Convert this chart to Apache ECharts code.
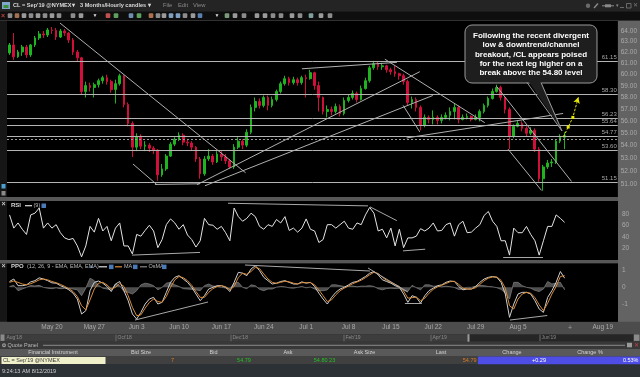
<!DOCTYPE html>
<html><head><meta charset="utf-8">
<script src="https://cdn.jsdelivr.net/npm/echarts@6/dist/echarts.min.js"></script>
<style>html,body{margin:0;padding:0;background:#2b2b2b;overflow:hidden}#c{width:640px;height:377px}</style>
</head><body><div id="c"></div>
<script>
// ---------- data (hourly CL candles, sampled in half-day slots) ----------
const opens = [61.95,62.69,61.59,62.04,62.50,61.77,62.69,63.34,63.72,63.62,64.10,64.05,63.43,64.00,63.81,63.15,62.04,61.50,58.50,59.02,
58.85,59.10,59.45,59.72,59.37,58.67,59.19,59.89,57.39,55.80,53.87,54.75,53.95,54.03,53.79,53.63,51.70,52.16,53.16,54.11,
54.51,54.83,54.27,54.20,53.87,52.93,51.78,52.93,53.16,52.70,53.32,53.09,52.78,52.31,53.87,54.35,54.03,55.07,57.14,57.64,
57.31,57.99,57.31,57.81,58.50,59.19,59.63,59.28,59.54,59.28,59.72,59.63,60.16,59.02,57.99,56.80,56.97,56.80,57.22,56.63,
57.73,57.99,58.33,57.81,58.76,59.45,60.60,60.96,60.69,60.78,60.42,60.25,60.07,59.89,59.37,57.56,57.81,57.14,55.64,56.30,
56.13,56.30,56.05,56.30,56.47,56.80,57.14,56.13,56.30,56.38,56.13,56.30,56.80,57.31,57.90,58.50,58.85,57.99,56.97,54.75,
55.56,55.80,55.40,54.99,55.23,53.71,51.40,52.31,52.62,52.70,54.35,54.67];
const closes = [62.69,61.59,62.04,62.50,61.77,62.69,63.34,63.72,63.62,64.10,64.05,63.43,64.00,63.81,63.15,62.04,61.50,58.50,59.02,58.85,
59.10,59.45,59.72,59.37,58.67,59.19,59.89,57.39,55.80,53.87,54.75,53.95,54.03,53.79,53.63,51.70,52.16,53.16,54.11,54.51,
54.83,54.27,54.20,53.87,52.93,51.78,52.93,53.16,52.70,53.32,53.09,52.78,52.31,53.87,54.35,54.03,55.07,57.14,57.64,57.31,
57.99,57.31,57.81,58.50,59.19,59.63,59.28,59.54,59.28,59.72,59.63,60.16,59.02,57.99,56.80,56.97,56.80,57.22,56.63,57.73,
57.99,58.33,57.81,58.76,59.45,60.60,60.96,60.69,60.78,60.42,60.25,60.07,59.89,59.37,57.56,57.81,57.14,55.64,56.30,56.13,
56.30,56.05,56.30,56.47,56.80,57.14,56.13,56.30,56.38,56.13,56.30,56.80,57.31,57.90,58.50,58.85,57.99,56.97,54.75,55.56,
55.80,55.40,54.99,55.23,53.71,51.40,52.31,52.62,52.70,54.35,54.67,54.79];
const lows = [61.77,61.32,61.50,61.68,61.50,61.59,62.50,63.15,63.34,63.43,63.72,63.15,63.34,63.53,62.87,61.77,61.14,58.24,57.99,58.50,
57.99,58.85,59.19,59.10,58.41,57.47,59.02,57.14,55.56,53.09,53.55,53.71,53.55,53.48,53.32,51.25,51.55,52.01,53.09,53.95,
54.35,54.03,53.95,53.63,52.70,51.40,51.63,52.78,52.47,52.62,52.78,52.54,52.16,52.16,53.71,53.71,53.87,54.91,56.80,57.05,
57.14,56.89,57.14,57.64,58.33,59.02,59.02,59.10,59.02,59.10,57.99,59.54,58.67,56.80,56.55,56.30,56.47,56.63,56.38,56.47,
57.56,57.81,57.56,57.73,58.67,59.28,60.42,60.42,60.42,60.16,59.98,59.80,59.54,59.10,57.31,57.05,56.80,55.23,55.48,55.80,
55.72,55.72,55.80,56.13,56.05,56.13,55.80,56.05,56.13,55.97,56.05,55.97,56.63,57.14,57.81,58.41,57.73,56.63,53.71,54.59,
55.48,55.15,54.75,54.83,53.48,51.17,50.50,52.16,52.31,52.54,54.19,53.71];
const highs = [62.87,63.81,62.23,62.69,62.69,62.78,63.53,64.00,64.00,64.29,64.38,64.29,64.19,64.19,63.91,63.34,62.23,61.59,59.37,59.28,
59.28,59.63,59.89,59.98,59.54,59.54,60.07,59.98,57.56,55.97,54.99,54.91,54.35,54.19,53.95,53.71,52.54,53.32,54.27,54.67,
55.07,54.99,54.51,54.35,53.95,53.09,53.16,53.71,53.32,53.55,53.55,53.32,52.93,54.11,54.67,54.51,55.32,57.39,57.99,57.90,
58.16,58.16,58.07,58.67,59.37,59.89,59.80,59.80,59.72,59.89,59.98,60.42,60.25,59.37,58.07,57.31,57.22,57.47,57.39,57.99,
58.24,58.59,58.50,59.02,59.72,60.78,61.23,61.14,61.05,60.87,60.60,60.78,60.16,60.07,59.54,58.07,57.99,57.31,56.55,56.47,
56.89,56.47,56.55,56.72,57.14,57.47,57.31,56.55,56.63,56.47,56.55,56.97,57.47,58.07,58.76,59.10,59.02,58.07,57.14,55.72,
56.05,55.97,55.56,55.48,55.40,53.87,52.47,52.85,52.93,54.51,54.91,55.07];
const rsiValues = [78,55,64,53,44,78,81,90,55,64,55,61,47,38,35,37,24,5,24,58,
48,72,50,58,33,55,64,24,24,10,44,41,51,60,50,21,35,61,71,64,
53,61,43,35,22,33,72,61,60,53,58,47,33,90,75,67,72,81,75,58,
53,61,58,70,64,75,51,55,48,55,71,53,50,30,35,61,61,55,61,67,
55,53,64,61,78,91,81,50,53,38,55,24,53,21,38,38,41,54,50,55,
64,50,51,61,64,41,61,67,47,48,55,61,77,84,67,58,33,33,8,55,
47,47,58,44,33,8,33,58,58,78,72,65];
const ppoValues = [0.35,0.5,0.1,0.1,0.15,0.33,0.4,0.57,0.5,0.4,0.27,0.25,0.1,0.0,-0.15,-0.35,-0.7,-1.6,-1.4,-0.2,
0.3,0.38,0.25,0.05,-0.25,0.2,0.35,-0.2,-0.8,-1.6,-1.9,-1.5,-1.0,-0.7,-0.6,-1.0,-0.9,-0.3,0.3,0.6,
0.7,0.5,0.3,0.0,-0.4,-0.8,-0.5,-0.1,0.0,0.1,0.1,0.0,-0.25,0.3,0.9,0.85,0.7,1.1,1.3,1.0,
0.6,0.4,0.2,0.25,0.35,0.4,0.3,0.2,0.2,0.33,0.25,0.3,0.05,-0.35,-0.7,-1.0,-0.6,-0.3,-0.1,0.0,
0.15,0.3,0.35,0.5,0.65,0.85,0.95,0.75,0.45,0.35,0.25,0.1,0.0,-0.4,-0.9,-0.5,-0.6,-0.95,-0.5,-0.2,
-0.05,0.1,0.15,0.3,0.38,0.35,0.05,-0.15,-0.1,-0.1,0.05,0.3,0.5,0.6,0.65,0.6,0.3,-0.4,-1.8,-1.0,
-0.4,-0.3,-0.3,-0.4,-0.8,-1.3,-1.5,-0.6,-0.2,0.3,0.95,0.55];
const ppoSignal = [0.3,0.38,0.3,0.2,0.15,0.22,0.32,0.45,0.5,0.45,0.35,0.28,0.18,0.06,-0.08,-0.25,-0.55,-1.1,-1.35,-0.75,
-0.1,0.25,0.3,0.15,-0.1,0.0,0.25,0.05,-0.5,-1.2,-1.7,-1.65,-1.25,-0.9,-0.7,-0.85,-0.9,-0.55,0.0,0.45,
0.65,0.58,0.4,0.12,-0.25,-0.6,-0.6,-0.3,-0.08,0.05,0.1,0.04,-0.15,0.05,0.6,0.85,0.78,0.95,1.2,1.12,
0.8,0.5,0.3,0.24,0.3,0.37,0.33,0.25,0.2,0.28,0.28,0.28,0.15,-0.15,-0.5,-0.85,-0.75,-0.45,-0.2,-0.05,
0.08,0.22,0.32,0.43,0.58,0.75,0.9,0.83,0.6,0.42,0.3,0.17,0.05,-0.22,-0.65,-0.62,-0.58,-0.8,-0.65,-0.35,
-0.12,0.03,0.12,0.23,0.34,0.36,0.18,-0.05,-0.1,-0.1,-0.02,0.18,0.4,0.55,0.62,0.62,0.42,-0.05,-1.1,-1.3,
-0.7,-0.4,-0.3,-0.35,-0.62,-1.05,-1.4,-0.95,-0.4,0.05,0.65,0.7];
const ppoOsma = [0.05,0.12,-0.2,-0.1,0,0.11,0.08,0.12,0,-0.05,-0.08,-0.03,-0.08,-0.06,-0.07,-0.1,-0.15,-0.5,-0.05,0.55,
0.4,0.13,-0.05,-0.1,-0.15,0.2,0.1,-0.25,-0.3,-0.4,-0.2,0.15,0.25,0.2,0.1,-0.15,0,0.25,0.3,0.15,
0.05,-0.08,-0.1,-0.12,-0.15,-0.2,0.1,0.2,0.08,0.05,0,-0.04,-0.1,0.25,0.3,0,-0.08,0.15,0.1,-0.12,
-0.2,-0.1,-0.1,0.01,0.05,0.03,-0.03,-0.05,0,0.05,-0.03,0.02,-0.1,-0.2,-0.2,-0.15,0.15,0.15,0.1,0.05,
0.07,0.08,0.03,0.07,0.07,0.1,0.05,-0.08,-0.15,-0.07,-0.05,-0.07,-0.05,-0.18,-0.25,0.12,-0.02,-0.15,0.15,0.15,
0.07,0.07,0.03,0.07,0.04,-0.01,-0.13,-0.1,0,0,0.07,0.12,0.1,0.05,0.03,-0.02,-0.12,-0.35,-0.7,0.3,
0.3,0.1,0,-0.05,-0.18,-0.25,-0.1,0.35,0.2,0.25,0.3,-0.15];
const weekTicks = [10,20,30,40,50,60,70,80,90,100,110,120,130,140];
const weekLabels = ['May 20','May 27','Jun 3','Jun 10','Jun 17','Jun 24','Jul 1','Jul 8','Jul 15','Jul 22','Jul 29','Aug 5','','Aug 19'];
const priceTicks = [51,52,53,54,55,56,57,58,59,60,61,62,63,64];
const priceLevels = [61.15,58.30,56.23,55.64,54.77,53.60,51.15];
const lastPrice = 54.79;
const prevClose = 54.50;
const rsiTicks = [20,40,60,80];
const ppoTicks = [-1,0,1];
// drawn annotation lines, [slot, value] pairs
const priceTrendLines = [
  [[11.91,64.76],[55.74,51.86]], [[29.14,52.54],[34.81,50.95]], [[34.33,50.97],[44.95,51.02]],
  [[44.24,50.95],[96.87,60.25]], [[46.13,50.87],[99.94,58.16]], [[69.03,60.51],[91.45,61.09]],
  [[88.61,61.38],[112.2,55.86]], [[92.93,57.31],[96.87,55.10]], [[93.74,54.61],[130.7,56.63]],
  [[114.98,58.96],[132.68,51.20]], [[117.7,53.71],[125.6,50.52]]
];
const rsiTrendLines = [
  [[28.9,8.0],[44.95,12.7]], [[51.56,98.3],[84.6,93.7]], [[85.07,92],[91.4,68]],
  [[92.86,15.4],[98.1,18.3]], [[116.5,4.6],[125.9,5.1]]
];
const ppoTrendLines = [
  [[29.61,-1.96],[46.84,-0.88]], [[55.57,1.34],[85.07,0.98]], [[84.6,1.16],[94.0,-0.28]],
  [[93.3,-0.94],[97.3,-0.94]], [[118.1,-1.96],[126.9,-1.69]]
];
const projection = [[130.8,54.7],[131.9,55.5],[133.0,56.3],[134.3,58.0]];
const calloutLines = ['Following the recent divergent','low & downtrend/channel','breakout, /CL appears poised','for the next leg higher on a','break above the 54.80 level'];

// ---------- build ----------
const candleData = opens.map((o,i)=>[i,o,closes[i],lows[i],highs[i]]);
const rsiData = rsiValues.map((v,i)=>[i,v]);
const ppoData = ppoValues.map((v,i)=>[i,v]);
const sigData = ppoSignal.map((v,i)=>[i,v]);
const osmaData = ppoOsma.map((v,i)=>[i,v]);
const toPairs = arr => arr.map(p=>[{coord:p[0]},{coord:p[1]}]);

const FONT = '"Liberation Sans", Arial, sans-serif';
function R(x,y,w,h,fill,z,extra){return Object.assign({type:'rect',silent:true,z:z==null?-5:z,shape:{x:x,y:y,width:w,height:h},style:{fill:fill}},extra||{});}
function T(text,x,y,size,color,o){o=o||{};return {type:'text',silent:true,z:o.z==null?5:o.z,style:{text:text,x:x,y:y,fill:color,font:(o.bold?'bold ':'')+size+'px '+FONT,textAlign:o.align||'left',textVerticalAlign:'middle'}};}
function L(x1,y1,x2,y2,color,w,z){return {type:'line',silent:true,z:z==null?5:z,shape:{x1:x1,y1:y1,x2:x2,y2:y2},style:{stroke:color,lineWidth:w||1}};}

const G = [];
// chrome backgrounds
G.push(R(0,0,640,11.5,'#242424'));
G.push(R(0,11.5,640,9,'#0e0e0e'));
G.push(R(0,20.3,640,0.8,'#3a3a3a'));
G.push(R(0,21,7,301,'#161616'));
G.push(R(618,21,22,301,'#636363'));
G.push(R(0,197,618,4,'#575757'));
G.push(R(0,260,618,3.5,'#575757'));
G.push(R(0,321.7,640,12.5,'#4c4c4c'));
G.push(R(0,334.2,640,7.5,'#3d3d3d'));
G.push(R(469,334.6,164,6.8,'#262626'));
G.push(R(467.5,334.2,2,7.5,'#9a9a9a',1));
G.push(R(634,334.4,5.5,6.5,'#8a8a8a',1));
G.push(R(0.5,334.4,4,6.5,'#8a8a8a',1));
G.push(R(0,341.7,640,7.3,'#383838'));
G.push(R(0,349,640,7.5,'#595959'));
G.push(R(0,356.5,640,7.8,'#404040'));
G.push(R(1.5,357,104,7,'#efefca',1));
G.push(R(478,356.5,162,7.8,'#4e4ee6',1));
G.push(R(0,364.3,640,12.7,'#2c3136'));

// title bar
G.push(R(2,2,8,7,'#7fa7c9',1));
G.push(R(3.5,5,5,3,'#3d8f3d',2));
G.push(T("CL = Sep'19 @NYMEX\u25BE",13,5.8,5.6,'#d8d8d8',{bold:true}));
G.push(T('3 Months/Hourly candles \u25BE',80,5.8,5.6,'#d8d8d8',{bold:true}));
G.push(T('File',163,5.8,5.8,'#8a8a8a'));
G.push(T('Edit',178,5.8,5.8,'#8a8a8a'));
G.push(T('View',193,5.8,5.8,'#8a8a8a'));
G.push({type:'circle',silent:true,z:3,shape:{cx:588,cy:5.8,r:2.2},style:{fill:'#6a6a6a'}});
G.push(L(594,8,598,3.5,'#8a8a8a',1.4,3));
G.push(L(602,5.8,614,5.8,'#8a8a8a',1,3));
G.push(R(605,4.3,6,3,'#8a8a8a',3));
G.push(T('\u25BE',615.5,5.8,5,'#8a8a8a'));
G.push(L(620,7.5,624,7.5,'#6a6a6a',1,3));
G.push(R(626.5,3.5,4.5,4.5,'rgba(0,0,0,0)',3,{style:{fill:'none',stroke:'#6a6a6a',lineWidth:1}}));
G.push(T('\u2715',633,5.8,6,'#7a7a7a'));

// toolbar icons (decorative)
const tbX = [10,17,24,31,38,45,52,59,73,81,108,116,131,139,151,158,164,171,178,185,193,200,227,235,244,257,265,273,281,292,300,311,321,330];
const tbC = ['#8c8c8c','#a07050','#9a9a9a','#8c8c8c','#9a9a9a','#8c8c8c','#9a9a9a','#8c8c8c','#8c8c8c','#9a9a9a','#c05050','#5fa05f','#6f8fb0','#5fa05f','#b07050','#8c8c8c','#9a9a9a','#7f9fc0','#7f9fc0','#8c8c8c','#9a9a9a','#5a7fb0','#7a9a7a','#9a9a9a','#8c8c8c','#9a9a9a','#9a9a9a','#8c8c8c','#8c8c8c','#9a9a9a','#8c8c8c','#7f9f9f','#9a9a9a','#8c8c8c'];
tbX.forEach((x,i)=>G.push(R(x-2.3,13.3,4.6,4.6,tbC[i],1,{shape:{x:x-2.3,y:13.3,width:4.6,height:4.6,r:1}})));
G.push(T('\u00D7',3,15.6,7,'#c04040',{bold:true,align:'center'}));
G.push(T('\u25BC',95,15.6,5,'#dddddd',{align:'center'}));
G.push(T('\u25BC',217,15.6,5,'#dddddd',{align:'center'}));

// left column icons
G.push(R(1.5,184,4,4.5,'#4aa0d0',1));
G.push(R(1.5,191,4,4.5,'#8a8a8a',1));
G.push(T('\u00D7',3.5,204.5,7,'#c8c8c8',{bold:true,align:'center'}));
G.push(T('\u00D7',3.5,266.5,7,'#c8c8c8',{bold:true,align:'center'}));

// RSI legend
G.push(T('RSI',11,205.7,6,'#d8d8d8',{bold:true}));
G.push(L(25,205.7,32,205.7,'#e0e0e0',1.2));
G.push(T('(9)',33.5,205.7,5.5,'#bbbbbb'));
G.push(R(41.5,203.5,4.5,4.5,'#4a7ab8',5));
// PPO legend
G.push(T('PPO',11,266.8,6,'#d8d8d8',{bold:true}));
G.push(T('(12, 26, 9 - EMA, EMA, EMA)',27,266.8,5.5,'#bbbbbb'));
G.push(T('\u25B2',91.5,266.8,4.5,'#6f9fd0',{align:'center'}));
G.push(L(99,266.8,107,266.8,'#e0e0e0',1.2));
G.push(R(109,264.6,4.5,4.5,'#4a7ab8',5));
G.push(L(115,266.8,122,266.8,'#d98c3a',1.2));
G.push(T('MA',124,266.8,5.5,'#bbbbbb'));
G.push(R(133,264.6,4.5,4.5,'#4a7ab8',5));
G.push(L(140,266.8,147,266.8,'#8a8a8a',1.2));
G.push(T('OsMA',148.5,266.8,5.5,'#bbbbbb'));
G.push(R(162,264.6,4.5,4.5,'#4a7ab8',5));

// callout
G.push({type:'rect',silent:true,z:50,shape:{x:465,y:25,width:132,height:58,r:7},style:{fill:'#1e1e1e',stroke:'#9a9a9a',lineWidth:1}});
G.push({type:'polygon',silent:true,z:51,shape:{points:[[527.5,80],[540.5,80],[562,130.5]]},style:{fill:'#1e1e1e'}});
G.push({type:'polyline',silent:true,z:52,shape:{points:[[527,82.5],[562,131],[541,82.5]]},style:{stroke:'#9a9a9a',lineWidth:1,fill:null}});
calloutLines.forEach((s,i)=>G.push(T(s,531,36.2+i*9.05,8,'#ffffff',{bold:true,align:'center',z:53})));

// x band extra marker
G.push(T('+',570,327.6,7,'#a0a0a0',{align:'center'}));

// navigator
const navX = [5,116,231,344,431,540];
const navL = ["Aug'18","Oct'18","Dec'18","Feb'19","Apr'19","Jun'19"];
navX.forEach((x,i)=>{ if(i>0) G.push(L(x,334.6,x,341.3,'#6a6a6a',1,2)); G.push(T(navL[i],x+1.5,338.1,5,'#8c8c8c')); });

// quote panel
G.push({type:'circle',silent:true,z:3,shape:{cx:4,cy:345.2,r:2},style:{fill:'#9a9a9a'}});
G.push(L(2.8,345.2,5.2,345.2,'#333',0.8,4));
G.push(T('Quote Panel',7.5,345.2,5.5,'#b8b8b8'));
G.push(L(43,345.3,625,345.3,'#8a8a8a',1,3));
G.push(R(627,342.8,5,4.5,'#9a9a9a',3));
G.push(T('\u2715',636,345.2,5.5,'#d04040',{align:'center'}));
const colNames = ['Financial Instrument','Bid Size','Bid','Ask','Ask Size','Last','Change','Change %'];
const colX = [53,141,213.5,288,364.5,441,512,590];
colNames.forEach((s,i)=>G.push(T(s,colX[i],352.8,5.5,'#d2d2d2',{align:'center'})));
G.push(T("CL = Sep'19 @NYMEX",3,360.6,5.5,'#3a3a3a'));
G.push(T('7',172.6,360.6,5.5,'#e07a20',{align:'center'}));
G.push(T('54.79',244,360.6,5.5,'#22c022',{align:'center'}));
G.push(T('54.80 23',324.5,360.6,5.5,'#22c022',{align:'center'}));
G.push(T('54.79',476.5,360.6,5.5,'#e07a20',{align:'right'}));
G.push(T('+0.29',539,360.6,5.5,'#ffffff',{align:'center'}));
G.push(T('0.53%',638.5,360.6,5.5,'#ffffff',{align:'right'}));
// status bar
G.push(T('9:24:13 AM 8/12/2019',2,371.7,5.5,'#cfcfcf'));

const axisLabelStyle = {color:'#a9a9a9',fontSize:6.5,fontFamily:FONT};
const xBase = {type:'value',min:-0.6,max:143.6,splitLine:{show:false},axisLine:{show:false},axisTick:{show:false}};

const levelItems = priceLevels.map(v=>({yAxis:v,label:{show:true,position:'insideEndTop',formatter:v.toFixed(2),color:'#a8a8a8',fontSize:6,fontFamily:FONT,distance:1}}));
levelItems.push({yAxis:prevClose,lineStyle:{type:[2,2],color:'#9a9a9a'},label:{show:false}});
levelItems.push({yAxis:lastPrice,lineStyle:{opacity:0},label:{show:true,position:'end',distance:1,formatter:lastPrice.toFixed(2),backgroundColor:'#e3e34c',color:'#1a1a1a',padding:[1,2,0,2],fontSize:6.5,fontFamily:FONT}});

const option = {
  animation:false,
  backgroundColor:'transparent',
  graphic:{elements:G},
  grid:[
    {left:7,top:21,width:611,height:176,show:true,backgroundColor:'#000',borderWidth:0},
    {left:7,top:201,width:611,height:59,show:true,backgroundColor:'#000',borderWidth:0},
    {left:7,top:263.5,width:611,height:58.2,show:true,backgroundColor:'#000',borderWidth:0}
  ],
  xAxis:[
    Object.assign({gridIndex:0,axisLabel:{show:false}},xBase),
    Object.assign({gridIndex:1,axisLabel:{show:false}},xBase),
    Object.assign({gridIndex:2,axisLabel:Object.assign({show:true,margin:2,customValues:weekTicks,formatter:v=>{const k=weekTicks.indexOf(Math.round(v));return k>=0?weekLabels[k]:'';}},axisLabelStyle)},xBase)
  ],
  yAxis:[
    {gridIndex:0,type:'log',logBase:10,min:50.03,max:64.955,position:'right',splitLine:{show:false},axisLine:{show:false},axisTick:{show:false},
     axisLabel:Object.assign({margin:3,customValues:priceTicks,formatter:v=>Number(v).toFixed(2)},axisLabelStyle)},
    {gridIndex:1,type:'value',min:-0.5,max:102.2,position:'right',splitLine:{show:false},axisLine:{show:false},axisTick:{show:false},
     axisLabel:Object.assign({margin:4,customValues:rsiTicks},axisLabelStyle)},
    {gridIndex:2,type:'value',min:-2.06,max:1.43,position:'right',splitLine:{show:false},axisLine:{show:false},axisTick:{show:false},
     axisLabel:Object.assign({margin:4,customValues:ppoTicks},axisLabelStyle)}
  ],
  series:[
    {type:'candlestick',xAxisIndex:0,yAxisIndex:0,data:candleData,barWidth:2.2,silent:true,
     itemStyle:{color:'#1fb41f',color0:'#d0103a',borderColor:'#1fb41f',borderColor0:'#d0103a',borderWidth:1},
     markLine:{silent:true,symbol:'none',animation:false,lineStyle:{color:'#b4b4b4',width:1,type:'solid'},data:levelItems}},
    {type:'line',xAxisIndex:0,yAxisIndex:0,silent:true,z:6,
     data:projection.map((p,i)=>i===0?{value:p,symbol:'none'}:(i===projection.length-1?{value:p,symbol:'arrow',symbolSize:[5,6],symbolRotate:-17}:{value:p,symbol:'rect',symbolSize:3})),
     lineStyle:{color:'#e6e600',width:1,type:[2.5,1.5]},itemStyle:{color:'#e6e600'},
     markLine:{silent:true,symbol:'none',animation:false,lineStyle:{color:'#b0b0b0',width:1,type:'solid'},label:{show:false},data:toPairs(priceTrendLines)}},
    {type:'line',xAxisIndex:1,yAxisIndex:1,data:rsiData,showSymbol:false,silent:true,lineStyle:{color:'#e4e4e4',width:1},
     markLine:{silent:true,symbol:'none',animation:false,lineStyle:{color:'#a8a8a8',width:1,type:'solid'},label:{show:false},data:toPairs(rsiTrendLines)}},
    {type:'line',xAxisIndex:2,yAxisIndex:2,data:osmaData,showSymbol:false,silent:true,lineStyle:{color:'#7a7a7a',width:0.8},areaStyle:{color:'#4e4e4e',opacity:1,origin:0}},
    {type:'line',xAxisIndex:2,yAxisIndex:2,data:ppoData,showSymbol:false,silent:true,lineStyle:{color:'#cfcfcf',width:1},
     markLine:{silent:true,symbol:'none',animation:false,lineStyle:{color:'#a8a8a8',width:1,type:'solid'},label:{show:false},data:toPairs(ppoTrendLines)}},
    {type:'line',xAxisIndex:2,yAxisIndex:2,data:sigData,showSymbol:false,silent:true,lineStyle:{color:'#d98c3a',width:1}}
  ]
};
const chart = echarts.init(document.getElementById('c'),null,{renderer:'canvas',width:640,height:377});
chart.setOption(option);
</script></body></html>
